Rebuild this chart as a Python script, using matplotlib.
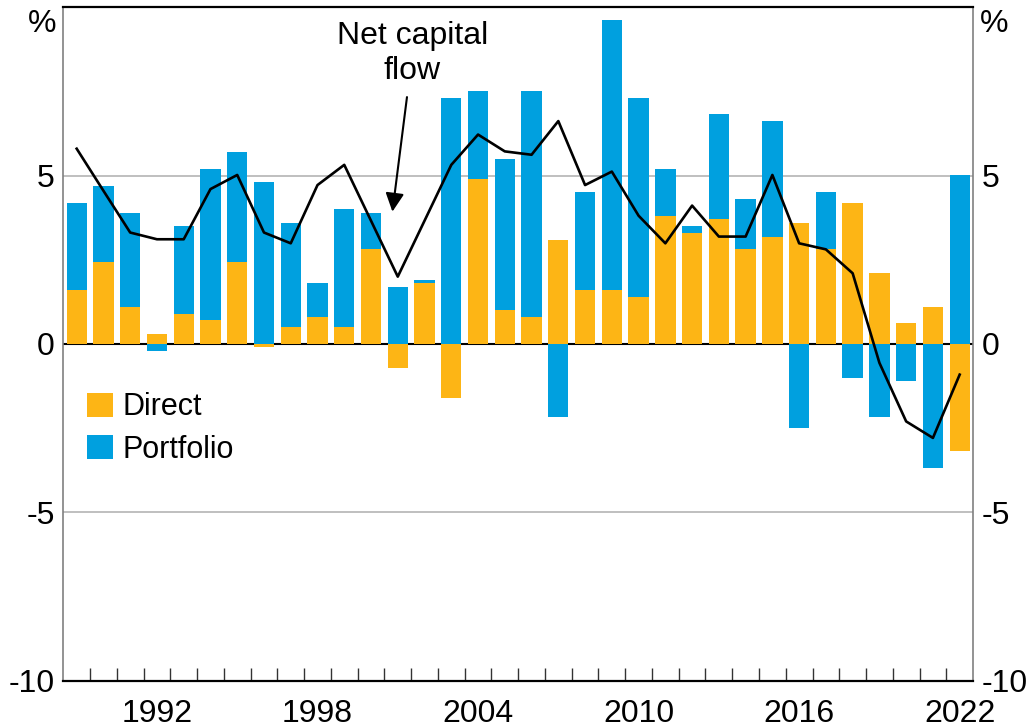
import matplotlib.pyplot as plt
import numpy as np

plt.rcParams['font.family'] = ['Liberation Sans', 'DejaVu Sans']

years = np.arange(1989, 2023)
direct = [1.6, 2.42, 1.1, 0.3, 0.9, 0.7, 2.42, -0.1, 0.5, 0.8, 0.5, 2.81,
          -0.71, 1.8, -1.6, 4.9, 1.0, 0.8, 3.09, 1.6, 1.6, 1.4, 3.8, 3.29,
          3.7, 2.81, 3.19, 3.59, 2.81, 4.2, 2.1, 0.61, 1.1, -3.19]
portfolio = [2.6, 2.28, 2.8, -0.2, 2.59, 4.5, 3.29, 4.8, 3.09, 1.0, 3.5, 1.09,
             1.7, 0.1, 7.32, 2.62, 4.5, 6.72, -2.18, 2.9, 8.01, 5.92, 1.4, 0.2,
             3.12, 1.49, 3.43, -2.5, 1.69, -1.01, -2.18, -1.11, -3.68, 5.02]
net_flow = [5.8, 4.55, 3.31, 3.11, 3.11, 4.6, 5.02, 3.31, 2.99, 4.72, 5.32, 3.66,
            2.0, 3.66, 5.32, 6.22, 5.72, 5.62, 6.62, 4.72, 5.12, 3.81, 2.99, 4.11,
            3.19, 3.19, 5.02, 2.99, 2.81, 2.1, -0.56, -2.3, -2.79, -0.91]
label_years = [1992, 1998, 2004, 2010, 2016, 2022]

c_direct = '#fdb515'
c_port = '#00a0df'

d = np.array(direct)
p = np.array(portfolio)
# portfolio sits on top of direct only when both have the same sign
p_bottom = np.where(np.sign(d) == np.sign(p), d, 0)

fig = plt.figure(figsize=(10.31, 7.28), dpi=100)
ax = fig.add_axes([0.0614, 0.065, 0.8824, 0.925])

ax.axhline(0, color='black', lw=1.5, zorder=1)
for yv in [5, -5]:
    ax.axhline(yv, color='#b4b4b4', lw=1.2, zorder=0)

ax.bar(years, d, width=0.76, color=c_direct, edgecolor='none', zorder=2, label='Direct')
ax.bar(years, p, width=0.76, bottom=p_bottom, color=c_port, edgecolor='none', zorder=2,
       label='Portfolio')
ax.plot(years, net_flow, color='black', lw=1.9, zorder=3)

ax.set_xlim(1988.5, 2022.5)
ax.set_ylim(-10, 10)
ax.set_yticks([-10, -5, 0, 5])
ax.set_yticklabels(['-10', '-5', '0', '5'])
ax.set_xticks(label_years)
ax.set_xticks(np.arange(1989.5, 2022, 1), minor=True)
ax.tick_params(axis='y', length=0, labelsize=23, pad=6, labelright=True, right=False)
ax.tick_params(axis='x', which='major', length=0, labelsize=23, pad=13)
ax.tick_params(axis='x', which='minor', direction='in', length=9.5, width=1, color='#333333')

for s in ['left', 'right']:
    ax.spines[s].set_color('#808080')
    ax.spines[s].set_linewidth(1.2)
ax.spines['bottom'].set_linewidth(1.6)
ax.spines['top'].set_linewidth(1.6)

ax.text(-0.008, 0.975, '%', transform=ax.transAxes, ha='right', va='center', fontsize=23)
ax.text(1.007, 0.975, '%', transform=ax.transAxes, ha='left', va='center', fontsize=23)

ax.annotate('Net capital\nflow', xy=(2000.8, 3.93), xytext=(2001.55, 8.62),
            ha='center', va='center', fontsize=23, linespacing=1.2,
            arrowprops=dict(arrowstyle='-|>', color='black', lw=1.5,
                            mutation_scale=28, shrinkA=6, shrinkB=0))

ax.legend(loc='upper left', bbox_to_anchor=(0.026, 0.428), frameon=False, fontsize=22,
          handlelength=0.85, handleheight=0.85, handletextpad=0.3, labelspacing=0.4,
          borderpad=0, borderaxespad=0)

fig.savefig('out.png', dpi=100)
